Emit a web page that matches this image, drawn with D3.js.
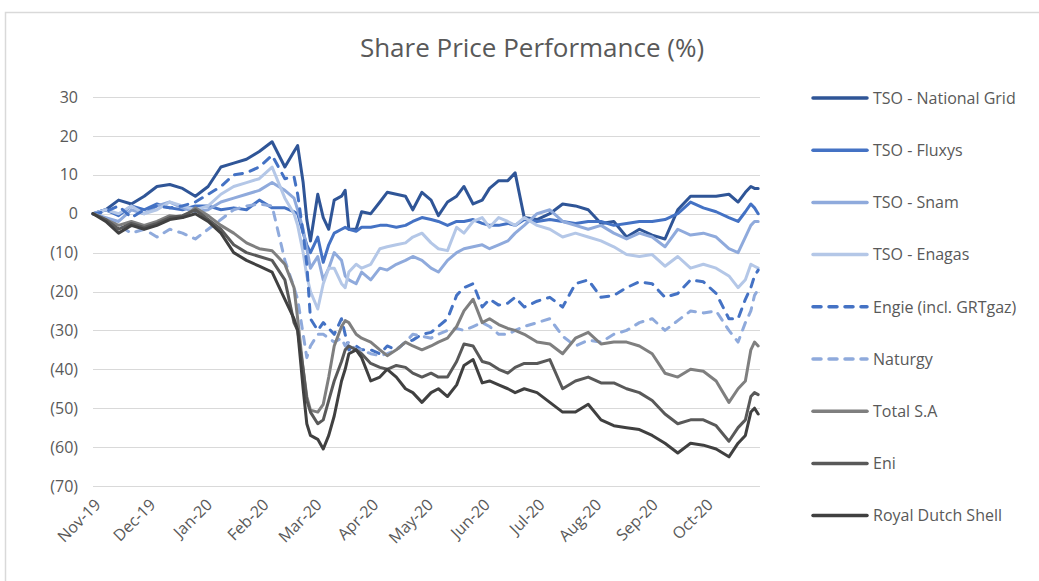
<!DOCTYPE html>
<html>
<head>
<meta charset="utf-8">
<script src="https://cdn.jsdelivr.net/npm/d3@7"></script>
<style>
  body { margin: 0; background: #fff; }
  text { font-family: 'Open Sans', sans-serif; fill: #595959; }
</style>
</head>
<body>
<div class="Canvas"></div>
<script>
// sample dates (weekly, denser around the Feb/Mar crash)
const dates = [
  '2019-11-01', '2019-11-08', '2019-11-15', '2019-11-22', '2019-11-29',
  '2019-12-06', '2019-12-13', '2019-12-20', '2019-12-27',
  '2020-01-03', '2020-01-10', '2020-01-17', '2020-01-24', '2020-01-31',
  '2020-02-07', '2020-02-14', '2020-02-19', '2020-02-21', '2020-02-24', '2020-02-26', '2020-02-28',
  '2020-03-03', '2020-03-06', '2020-03-09', '2020-03-12', '2020-03-16', '2020-03-18', '2020-03-20', '2020-03-24', '2020-03-27',
  '2020-04-01', '2020-04-06', '2020-04-10', '2020-04-15', '2020-04-20', '2020-04-24', '2020-04-29',
  '2020-05-04', '2020-05-08', '2020-05-13', '2020-05-18', '2020-05-22', '2020-05-27',
  '2020-06-01', '2020-06-05', '2020-06-10', '2020-06-15', '2020-06-19', '2020-06-24',
  '2020-07-01', '2020-07-08', '2020-07-15', '2020-07-22', '2020-07-29',
  '2020-08-05', '2020-08-12', '2020-08-19', '2020-08-26',
  '2020-09-02', '2020-09-09', '2020-09-16', '2020-09-23', '2020-09-30',
  '2020-10-07', '2020-10-14', '2020-10-19', '2020-10-23', '2020-10-26', '2020-10-28', '2020-10-30',
];

const seriesNames = [
  'TSO - National Grid', 'TSO - Fluxys', 'TSO - Snam', 'TSO - Enagas',
  'Engie (incl. GRTgaz)', 'Naturgy', 'Total S.A', 'Eni', 'Royal Dutch Shell',
];

const nationalGrid = [
  0, 1.0, 3.5, 2.5, 4.5,
  7.0, 7.5, 6.5, 4.5,
  7.0, 12.0, 13.0, 14.0, 16.0,
  18.5, 12.0, 16.0, 17.5, 8.0, -1.5, -7.0,
  5.0, -1.0, -4.0, 3.5, 4.5, 6.0, -4.0, -4.0, 0.5,
  0.0, 3.0, 5.5, 5.0, 4.5, 1.0, 5.5,
  3.5, -0.5, 3.0, 4.5, 7.0, 2.5,
  3.5, 6.5, 8.5, 8.5, 10.5, -1.0,
  -1.5, 0.0, 2.5, 2.0, 1.0,
  -2.5, -2.0, -6.0, -4.0,
  -5.5, -6.5, 1.0, 4.5, 4.5,
  4.5, 5.0, 3.0, 5.5, 7.0, 6.5, 6.5,
];
const fluxys = [
  0, 1.0, -0.5, 2.0, 1.0,
  2.5, 1.5, 1.0, 2.0,
  2.0, 1.0, 1.5, 1.0, 3.5,
  1.5, 1.5, 0.5, 0.0, -5.0, -8.0, -10.0,
  -6.0, -12.5, -8.0, -5.0, -4.0, -3.5, -4.0, -4.5, -3.5,
  -3.5, -3.0, -3.0, -3.5, -3.0, -2.0, -1.0,
  -1.5, -2.0, -3.0, -2.0, -2.0, -1.5,
  -2.5, -3.0, -3.0, -2.5, -3.0, -1.5,
  -2.0, -1.5, -2.0, -2.5, -2.0,
  -2.0, -3.0, -2.5, -2.0,
  -2.0, -1.5, 0.0, 3.0, 1.5,
  0.5, -1.0, -2.0, 0.5, 2.5, 1.5, 0.0,
];
const snam = [
  0, -1.0, -2.0, 1.0, 0.0,
  2.0, 3.0, 1.5, 0.5,
  1.0, 3.0, 4.0, 5.0, 6.0,
  8.0, 6.0, 4.0, 1.0, -4.0, -9.0, -14.0,
  -11.0, -17.0, -14.0, -10.0, -12.0, -16.0, -17.0, -18.0, -15.0,
  -17.0, -14.0, -14.5, -13.0, -12.0, -11.0, -12.0,
  -14.0, -15.0, -12.0, -10.0, -9.0, -8.5,
  -8.0, -9.0, -8.0, -7.0, -5.0, -3.0,
  0.0, 1.0, -2.0, -3.0, -4.0,
  -3.0, -5.0, -6.5, -5.0,
  -6.0, -8.5, -4.0, -5.5, -5.0,
  -6.0, -9.0, -10.0, -6.0, -3.0, -2.0, -2.0,
];
const enagas = [
  0, 1.0, 0.0, 2.0, 0.0,
  1.0, 3.0, 2.0, 1.0,
  2.0, 5.0, 7.0, 8.0, 9.0,
  12.0, 4.0, 0.0, -3.0, -10.0, -16.0, -20.0,
  -24.5, -18.0, -14.0, -14.0, -18.0, -19.0, -15.0, -13.0, -14.0,
  -13.0, -9.0, -8.5, -8.0, -7.5, -6.0, -5.0,
  -7.5, -9.0, -9.5, -3.5, -5.0, -2.0,
  -1.0, -3.5, -1.0, -2.0, -3.0, -1.0,
  -3.0, -4.0, -6.0, -5.0, -6.0,
  -7.0, -8.5, -10.5, -11.0,
  -10.5, -13.5, -11.0, -14.0, -13.0,
  -14.0, -16.0, -19.0, -17.0, -13.0, -13.5, -14.0,
];
const engie = [
  0, 0.5, 2.0, -1.0, 1.0,
  2.0, 1.5, 2.0, 3.0,
  5.0, 7.0, 10.0, 10.5, 12.0,
  15.0, 9.0, 9.5, 5.0, -5.0, -13.0, -27.0,
  -30.0, -28.0, -29.5, -31.0, -27.0, -31.0, -35.0, -34.0, -35.0,
  -35.0, -36.0, -34.0, -35.0, -33.0, -32.5, -31.0,
  -30.5, -29.0, -27.0, -21.0, -19.0, -18.0,
  -24.0, -22.0, -23.5, -23.0, -21.5, -24.0,
  -22.5, -21.5, -24.0, -18.0, -17.0,
  -21.5, -21.0, -19.0, -17.5,
  -18.0, -21.5, -20.5, -17.0, -17.5,
  -20.5, -27.0, -27.0, -22.0, -19.0, -16.0, -14.5,
];
const naturgy = [
  0, -1.0, -3.0, -5.0, -4.0,
  -6.0, -4.0, -5.0, -6.5,
  -4.0, -1.5, 1.0, 2.0, 2.5,
  2.0, -12.0, -19.0, -22.0, -31.0, -37.0, -34.0,
  -31.0, -31.0, -32.0, -33.0, -32.0, -34.0, -33.0, -35.0, -35.0,
  -36.0, -36.5, -36.0, -35.0, -33.0, -31.0, -31.5,
  -32.0, -31.0, -30.0, -29.5, -30.0, -29.0,
  -28.0, -29.0, -31.0, -31.0, -30.0, -29.0,
  -28.0, -27.0, -31.5, -34.0, -32.5,
  -33.0, -31.0, -30.0, -28.0,
  -27.0, -30.0, -27.5, -25.0, -25.5,
  -25.0, -30.0, -33.0, -28.0, -25.0, -21.0, -19.5,
];
const total = [
  0, -1.5, -3.0, -2.0, -3.0,
  -2.0, -0.5, -1.0, 1.5,
  -0.5, -3.0, -5.0, -7.5, -9.0,
  -9.5, -13.0, -19.0, -27.0, -40.0, -47.0, -50.5,
  -51.0, -49.0, -42.0, -34.0, -29.0, -27.5, -28.0, -31.0, -32.0,
  -33.0, -35.0, -36.5, -35.0, -33.0, -34.0, -35.0,
  -34.0, -33.0, -32.0, -29.0, -25.0, -22.0,
  -28.0, -27.0, -28.5, -29.5, -30.0, -31.0,
  -33.0, -33.5, -36.0, -32.0, -30.5,
  -33.5, -33.0, -33.0, -34.0,
  -36.0, -41.0, -42.0, -40.0, -40.5,
  -43.0, -48.5, -45.0, -43.0, -35.0, -33.0, -34.0,
];
const eni = [
  0, -1.5, -4.0, -2.5, -3.5,
  -2.5, -1.0, -0.5, 1.0,
  -1.5, -4.0, -8.0, -10.0, -11.0,
  -12.0, -17.0, -28.0, -30.0, -40.0, -48.0, -51.0,
  -54.0, -53.0, -48.0, -43.0, -38.0, -35.0, -34.0, -35.0, -36.0,
  -38.5, -39.5, -40.0, -39.0, -39.5, -41.0, -42.0,
  -41.0, -42.0, -42.0, -38.0, -33.5, -34.0,
  -38.0, -38.5, -40.0, -41.0, -39.5, -38.5,
  -38.5, -37.5, -45.0, -43.0, -42.0,
  -43.5, -43.5, -45.0, -46.0,
  -48.0, -51.5, -54.0, -53.0, -53.0,
  -54.5, -58.5, -55.0, -53.0, -47.0, -46.0, -46.5,
];
const shell = [
  0, -2.0, -5.0, -3.0, -4.0,
  -3.0, -1.5, -1.0, 0.0,
  -2.0, -5.0, -10.0, -12.0, -13.5,
  -15.0, -22.0, -27.0, -30.0, -45.0, -54.0, -57.0,
  -58.0, -60.5, -57.0, -52.0, -43.0, -40.0, -36.0, -35.0, -37.0,
  -43.0, -42.0, -40.0, -42.0, -45.0, -46.0, -48.5,
  -46.0, -45.0, -47.0, -44.0, -39.0, -37.5,
  -43.5, -43.0, -44.0, -45.0, -46.0, -45.0,
  -46.0, -48.5, -51.0, -51.0, -49.0,
  -53.0, -54.5, -55.0, -55.5,
  -57.0, -59.0, -61.5, -59.0, -59.5,
  -60.5, -62.5, -59.0, -57.0, -51.0, -50.0, -51.5,
];

const yTicks = [30, 20, 10, 0, -10, -20, -30, -40, -50, -60, -70];
const monthTicks = [
  '2019-11-01', '2019-12-01', '2020-01-01', '2020-02-01', '2020-03-01', '2020-04-01',
  '2020-05-01', '2020-06-01', '2020-07-01', '2020-08-01', '2020-09-01', '2020-10-01',
];

// styles, one per series
const colors = ['#2F5597', '#4472C4', '#8FAADC', '#B4C7E7', '#4472C4', '#8FAADC', '#7F7F7F', '#595959', '#404040'];
const dashed = [false, false, false, false, true, true, false, false, false];

const width = 1039;
const height = 581;
const plotLeft = 93;
const plotRight = 760;
const plotTop = 97;
const plotBottom = 486;

const parse = d3.timeParse('%Y-%m-%d');
const allValues = [nationalGrid, fluxys, snam, enagas, engie, naturgy, total, eni, shell];
const series = seriesNames.map((name, i) => ({
  name,
  color: colors[i],
  dashed: dashed[i],
  values: dates.map((d, j) => ({ date: parse(d), value: allValues[i][j] })),
}));

const x = d3.scaleTime().domain([parse('2019-11-01'), parse('2020-10-31')]).range([plotLeft, plotRight]);
const y = d3.scaleLinear().domain([-70, 30]).range([plotBottom, plotTop]);

const svg = d3.select('.Canvas').append('svg').attr('width', width).attr('height', height);

svg
  .append('rect')
  .attr('x', 5.5)
  .attr('y', 12.5)
  .attr('width', 1100)
  .attr('height', 700)
  .attr('fill', 'none')
  .attr('stroke', '#d9d9d9')
  .attr('stroke-width', 1.5);

svg
  .append('text')
  .attr('x', 532)
  .attr('y', 57)
  .attr('text-anchor', 'middle')
  .attr('font-size', '26px')
  .text('Share Price Performance (%)');

// gridlines
svg
  .append('g')
  .selectAll('line')
  .data(yTicks)
  .enter()
  .append('line')
  .attr('x1', plotLeft)
  .attr('x2', plotRight)
  .attr('y1', (d) => Math.round(y(d)) + 0.5)
  .attr('y2', (d) => Math.round(y(d)) + 0.5)
  .attr('stroke', '#d9d9d9')
  .attr('stroke-width', 1);

const fmt = (d) => (d < 0 ? `(${-d})` : `${d}`);
const yAxis = svg
  .append('g')
  .attr('transform', `translate(${plotLeft - 15},0)`)
  .call(d3.axisLeft(y).tickValues(yTicks).tickFormat(fmt).tickSize(0).tickPadding(0));
yAxis.select('.domain').remove();
yAxis.selectAll('text').attr('font-size', '16px').attr('font-family', null).attr('fill', '#595959');

const xAxis = svg
  .append('g')
  .attr('transform', `translate(0,${plotBottom + 20})`)
  .call(
    d3
      .axisBottom(x)
      .tickValues(monthTicks.map(parse))
      .tickFormat(d3.timeFormat('%b-%y'))
      .tickSize(0)
  );
xAxis.select('.domain').remove();
xAxis
  .selectAll('text')
  .attr('font-size', '16px')
  .attr('font-family', null)
  .attr('fill', '#595959')
  .attr('text-anchor', 'end')
  .attr('x', 6)
  .attr('y', 0)
  .attr('dy', '0.35em')
  .attr('transform', 'rotate(-45)');

const line = d3
  .line()
  .x((d) => x(d.date))
  .y((d) => y(d.value));

svg
  .append('g')
  .selectAll('path')
  .data(series)
  .enter()
  .append('path')
  .attr('d', (d) => line(d.values))
  .attr('fill', 'none')
  .attr('stroke', (d) => d.color)
  .attr('stroke-width', 3)
  .attr('stroke-linejoin', 'round')
  .attr('stroke-linecap', 'round')
  .attr('stroke-dasharray', (d) => (d.dashed ? '8,8' : null));

// legend
const legend = svg
  .append('g')
  .selectAll('g')
  .data(series)
  .enter()
  .append('g')
  .attr('transform', (d, i) => `translate(813,${98 + i * 52.2})`);
legend
  .append('line')
  .attr('x1', 0)
  .attr('x2', 54)
  .attr('stroke', (d) => d.color)
  .attr('stroke-width', 3.5)
  .attr('stroke-linecap', 'round')
  .attr('stroke-dasharray', (d) => (d.dashed ? '8,8' : null));
legend
  .append('text')
  .attr('x', 60)
  .attr('dy', '0.36em')
  .attr('font-size', '16px')
  .text((d) => d.name);
</script>
</body>
</html>
